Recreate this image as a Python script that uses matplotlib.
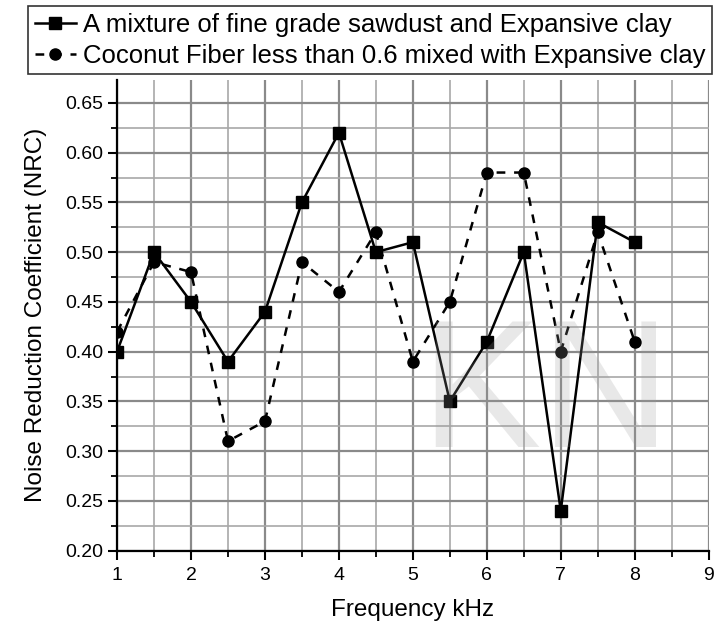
import matplotlib
matplotlib.use("Agg")
import matplotlib.pyplot as plt
from matplotlib.ticker import MultipleLocator, FormatStrFormatter

plt.rcParams['font.family'] = ['Liberation Sans', 'DejaVu Sans']

freq = [1, 1.5, 2, 2.5, 3, 3.5, 4, 4.5, 5, 5.5, 6, 6.5, 7, 7.5, 8]
sawdust = [0.40, 0.50, 0.45, 0.39, 0.44, 0.55, 0.62, 0.50, 0.51, 0.35, 0.41, 0.50, 0.24, 0.53, 0.51]
coconut = [0.42, 0.49, 0.48, 0.31, 0.33, 0.49, 0.46, 0.52, 0.39, 0.45, 0.58, 0.58, 0.40, 0.52, 0.41]
label_sawdust = "A mixture of fine grade sawdust and Expansive clay"
label_coconut = "Coconut Fiber less than 0.6 mixed with Expansive clay"

fig = plt.figure(figsize=(7.18, 6.30), dpi=100)
ax = fig.add_axes([0.163, 0.126, 0.824, 0.747])

# faint watermark
fig.text(0.585, 0.29, "KN", fontsize=130, color=(0.6, 0.6, 0.6), alpha=0.22, zorder=0)

l1, = ax.plot(freq, sawdust, color='black', lw=1.8, marker='s', markersize=8,
              label=label_sawdust, zorder=3)
l2, = ax.plot(freq, coconut, color='black', lw=1.8, ls=(0, (3.5, 3.5)), marker='o',
              markersize=8, label=label_coconut, zorder=3)

ax.set_xlim(1, 9)
ax.set_ylim(0.20, 0.673)
ax.xaxis.set_major_locator(MultipleLocator(1))
ax.xaxis.set_minor_locator(MultipleLocator(0.5))
ax.yaxis.set_major_locator(MultipleLocator(0.05))
ax.yaxis.set_minor_locator(MultipleLocator(0.025))
ax.yaxis.set_major_formatter(FormatStrFormatter('%.2f'))

ax.grid(which='major', color='#8a8a8a', lw=1.6)
ax.grid(which='minor', color='#a8a8a8', lw=1.2)
ax.set_axisbelow(True)

for s in ['top', 'right']:
    ax.spines[s].set_visible(False)
for s in ['left', 'bottom']:
    ax.spines[s].set_linewidth(1.6)
    ax.spines[s].set_zorder(4)

ax.tick_params(which='major', direction='out', length=6.5, width=1.5, labelsize=14)
ax.tick_params(axis='x', which='major', pad=5)
ax.tick_params(which='minor', direction='out', length=4, width=1.3)

ax.set_xlabel("Frequency kHz", fontsize=17.5, labelpad=11)
ax.set_ylabel("Noise Reduction Coefficient (NRC)", fontsize=17.5, labelpad=13)

leg = fig.legend(handles=[l1, l2], loc='upper right', bbox_to_anchor=(0.992, 0.99),
                 fontsize=18.5, frameon=True, fancybox=False, edgecolor='black',
                 handlelength=1.6, handletextpad=0.3, borderpad=0.25, labelspacing=0.28,
                 borderaxespad=0)
leg.get_frame().set_linewidth(1.2)

fig.savefig("out.png", dpi=100, facecolor='white')
